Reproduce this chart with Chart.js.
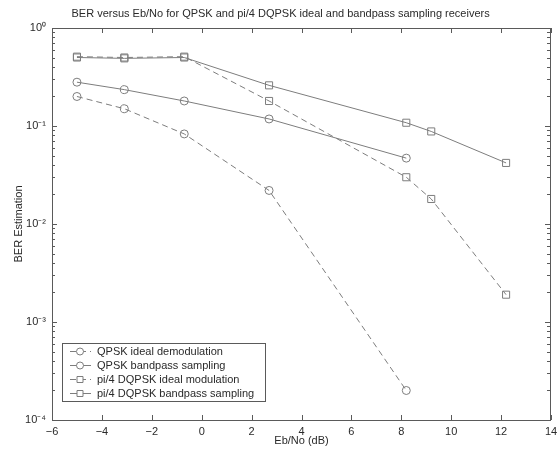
<!DOCTYPE html>
<html>
<head>
<meta charset="utf-8">
<title>BER versus Eb/No</title>
<script src="https://cdn.jsdelivr.net/npm/chart.js"></script>
<style>
    html, body { margin: 0; padding: 0; background: #fff; }
    #wrap { width: 557px; height: 452px; position: relative; }
</style>
</head>
<body>
<div id="wrap"><canvas id="ber-chart"></canvas></div>
<script>
// values
const ebnoQpsk = [-5, -3.1, -0.7, 2.7, 8.2];
const qpskIdealBer = [0.2, 0.15, 0.083, 0.022, 0.0002];
const qpskBandpassBer = [0.28, 0.235, 0.18, 0.118, 0.047];

const ebnoDqpsk = [-5, -3.1, -0.7, 2.7, 8.2, 9.2, 12.2];
const dqpskIdealBer = [0.51, 0.5, 0.51, 0.18, 0.030, 0.018, 0.0019];
const dqpskBandpassBer = [0.5, 0.49, 0.5, 0.26, 0.108, 0.088, 0.042];

const legendLabels = [
    'QPSK ideal demodulation',
    'QPSK bandpass sampling',
    'pi/4 DQPSK ideal modulation',
    'pi/4 DQPSK bandpass sampling'
];
const xTicks = [-6, -4, -2, 0, 2, 4, 6, 8, 10, 12, 14];
const decades = [-4, -3, -2, -1, 0];

const lineColor = '#7d7d7d';
const axisColor = '#5a5a5a';
const textColor = '#2a2a2a';
const fontFamily = '"Liberation Sans", Arial, Helvetica, sans-serif';

const toPoints = (xs, ys) => xs.map((x, i) => ({x: x, y: ys[i]}));

const sup = {'-': '\u207B', '0': '\u2070', '1': '\u00B9', '2': '\u00B2', '3': '\u00B3', '4': '\u2074'};
const powerLabel = (exp) => '10' + String(exp).split('').map(c => sup[c]).join('');

function makeDataset(label, xs, ys, style, dashed) {
    return {
        label: label,
        data: toPoints(xs, ys),
        borderColor: lineColor,
        borderWidth: 1,
        borderDash: dashed ? [6, 4] : [],
        pointStyle: style,
        pointRadius: style === 'rect' ? 5 : 4,
        pointBorderWidth: 1,
        pointBorderColor: lineColor,
        pointBackgroundColor: 'rgba(255,255,255,0)',
        tension: 0,
        fill: false
    };
}

// box round the plot area, inward ticks like the original
const frameTicks = {
    id: 'frameTicks',
    afterDraw(chart) {
        const ctx = chart.ctx;
        const area = chart.chartArea;
        const xs = chart.scales.x;
        const ys = chart.scales.y;
        ctx.save();
        ctx.strokeStyle = axisColor;
        ctx.lineWidth = 1;
        ctx.setLineDash([]);
        ctx.strokeRect(Math.round(area.left) + 0.5, Math.round(area.top) + 0.5,
            Math.round(area.right - area.left) - 1, Math.round(area.bottom - area.top));
        ctx.beginPath();
        xs.ticks.forEach(t => {
            const px = Math.round(xs.getPixelForValue(t.value)) + 0.5;
            ctx.moveTo(px, area.bottom);
            ctx.lineTo(px, area.bottom - 5);
            ctx.moveTo(px, area.top);
            ctx.lineTo(px, area.top + 5);
        });
        ys.ticks.forEach(t => {
            const py = Math.round(ys.getPixelForValue(t.value)) + 0.5;
            const len = t.major ? 5 : 3;
            ctx.moveTo(area.left, py);
            ctx.lineTo(area.left + len, py);
            ctx.moveTo(area.right - 1, py);
            ctx.lineTo(area.right - 1 - len, py);
        });
        ctx.stroke();
        ctx.restore();
    }
};

// legend box inside the plot, line sample + marker like MATLAB
const boxLegend = {
    id: 'boxLegend',
    afterDraw(chart) {
        const ctx = chart.ctx;
        const left = 62.5, top = 343.5, w = 203, h = 58;
        ctx.save();
        ctx.fillStyle = '#fff';
        ctx.fillRect(left, top, w, h);
        ctx.strokeStyle = axisColor;
        ctx.lineWidth = 1;
        ctx.strokeRect(left, top, w, h);
        ctx.font = '11px ' + fontFamily;
        ctx.textBaseline = 'middle';
        chart.data.datasets.forEach((ds, i) => {
            const yy = 351.5 + i * 14;
            ctx.strokeStyle = lineColor;
            ctx.setLineDash(ds.borderDash);
            ctx.beginPath();
            ctx.moveTo(70, yy);
            ctx.lineTo(91, yy);
            ctx.stroke();
            ctx.setLineDash([]);
            ctx.fillStyle = '#fff';
            ctx.beginPath();
            if (ds.pointStyle === 'rect') {
                ctx.rect(77, yy - 3, 6, 6);
            } else {
                ctx.arc(80, yy, 3.5, 0, Math.PI * 2);
            }
            ctx.fill();
            ctx.stroke();
            ctx.fillStyle = textColor;
            ctx.fillText(legendLabels[i], 97, yy);
        });
        ctx.restore();
    }
};

const ctx = document.getElementById('ber-chart').getContext('2d');
const berChart = new Chart(ctx, {
    type: 'line',
    data: {
        datasets: [
            makeDataset(legendLabels[0], ebnoQpsk, qpskIdealBer, 'circle', true),
            makeDataset(legendLabels[1], ebnoQpsk, qpskBandpassBer, 'circle', false),
            makeDataset(legendLabels[2], ebnoDqpsk, dqpskIdealBer, 'rect', true),
            makeDataset(legendLabels[3], ebnoDqpsk, dqpskBandpassBer, 'rect', false)
        ]
    },
    options: {
        responsive: true,
        maintainAspectRatio: false,
        animation: false,
        layout: {padding: {left: 0, right: 5, top: 0, bottom: 0}},
        plugins: {
            legend: {display: false},
            tooltip: {enabled: false},
            title: {
                display: true,
                text: '\u00A0\u00A0\u00A0BER versus Eb/No for QPSK and pi/4 DQPSK ideal and bandpass sampling receivers',
                color: textColor,
                font: {family: fontFamily, size: 11, weight: 'normal', lineHeight: 1.2},
                padding: {top: 7, bottom: 7.8}
            }
        },
        scales: {
            x: {
                type: 'linear',
                min: -6,
                max: 14,
                grid: {display: false, drawTicks: false},
                border: {display: false},
                afterBuildTicks: (scale) => {
                    scale.ticks = xTicks.map(v => ({value: v}));
                },
                afterFit: (scale) => {
                    scale.height = 32;
                    scale.paddingLeft = 0;
                    scale.paddingRight = 0;
                },
                ticks: {
                    autoSkip: false,
                    maxRotation: 0,
                    padding: 5,
                    color: textColor,
                    font: {family: fontFamily, size: 11},
                    callback: (value) => (value < 0 ? '\u2212' + Math.abs(value) : String(value))
                },
                title: {
                    display: true,
                    text: 'Eb/No (dB)',
                    color: textColor,
                    font: {family: fontFamily, size: 11},
                    padding: {top: 0, bottom: 4}
                }
            },
            y: {
                type: 'logarithmic',
                min: 1e-4,
                max: 1,
                grid: {display: false, drawTicks: false},
                border: {display: false},
                afterBuildTicks: (scale) => {
                    const ticks = [];
                    decades.forEach(d => {
                        const base = Math.pow(10, d);
                        if (d === 0) {
                            ticks.push({value: 1, major: true});
                            return;
                        }
                        for (let m = 1; m <= 9; m++) {
                            ticks.push({value: m * base, major: m === 1});
                        }
                    });
                    scale.ticks = ticks;
                },
                afterFit: (scale) => {
                    scale.width = 52;
                    scale.paddingTop = 0;
                    scale.paddingBottom = 0;
                },
                ticks: {
                    autoSkip: false,
                    padding: 6,
                    color: textColor,
                    font: {family: fontFamily, size: 11},
                    callback: (value) => {
                        const exp = Math.log10(value);
                        if (Math.abs(exp - Math.round(exp)) < 1e-9) {
                            return powerLabel(Math.round(exp));
                        }
                        return '';
                    }
                },
                title: {
                    display: true,
                    text: 'BER Estimation',
                    color: textColor,
                    font: {family: fontFamily, size: 11},
                    padding: {top: 12, bottom: 0}
                }
            }
        }
    },
    plugins: [frameTicks, boxLegend]
});
</script>
</body>
</html>
